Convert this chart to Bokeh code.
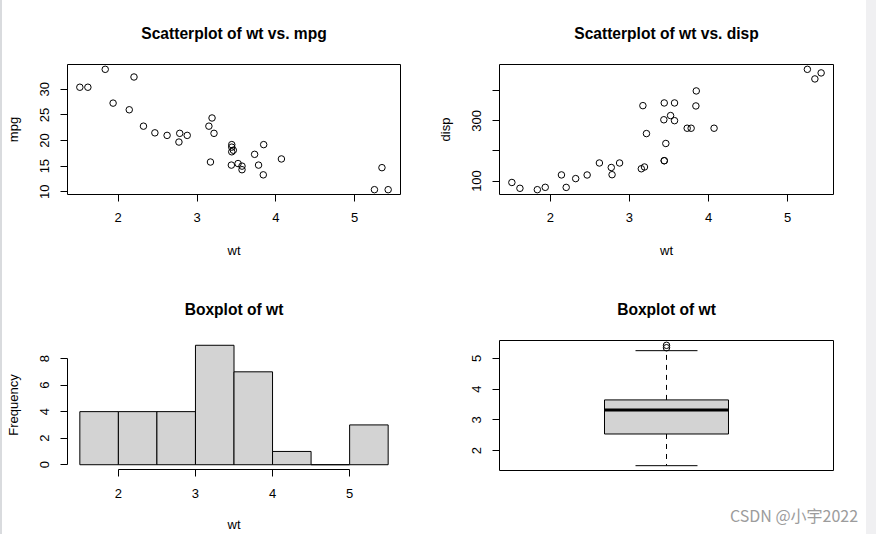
from bokeh.plotting import figure
from bokeh.layouts import row, column
from bokeh.models import FixedTicker, Range1d, Div
from bokeh.embed import file_html
from bokeh.resources import INLINE

# ---- data (mtcars) ----
wt = [2.620, 2.875, 2.320, 3.215, 3.440, 3.460, 3.570, 3.190, 3.150, 3.440, 3.440,
      4.070, 3.730, 3.780, 5.250, 5.424, 5.345, 2.200, 1.615, 1.835, 2.465, 3.520,
      3.435, 3.840, 3.845, 1.935, 2.140, 1.513, 3.170, 2.770, 3.570, 2.780]
mpg = [21.0, 21.0, 22.8, 21.4, 18.7, 18.1, 14.3, 24.4, 22.8, 19.2, 17.8, 16.4, 17.3,
       15.2, 10.4, 10.4, 14.7, 32.4, 30.4, 33.9, 21.5, 15.5, 15.2, 13.3, 19.2, 27.3,
       26.0, 30.4, 15.8, 19.7, 15.0, 21.4]
disp = [160, 160, 108, 258, 360, 225, 360, 146.7, 140.8, 167.6, 167.6, 275.8, 275.8,
        275.8, 472, 460, 440, 78.7, 75.7, 71.1, 120.1, 318, 304, 350, 400, 79, 120.3,
        95.1, 351, 145, 301, 121]

wt_ticks = [2, 3, 4, 5]
mpg_ticks = [10, 15, 20, 25, 30]
disp_ticks = [100, 200, 300, 400]
disp_tick_labels = ["100", "", "300", ""]

hist_left = [1.5, 2.0, 2.5, 3.0, 3.5, 4.0, 4.5, 5.0]
hist_right = [2.0, 2.5, 3.0, 3.5, 4.0, 4.5, 5.0, 5.5]
hist_counts = [4, 4, 4, 9, 7, 1, 0, 3]
hist_y_ticks = [0, 2, 4, 6, 8]

box_pos = 1
box_lower = 1.513
box_q1 = 2.5425
box_median = 3.325
box_q3 = 3.65
box_upper = 5.25
box_outliers = [5.345, 5.424]
box_y_ticks = [2, 3, 4, 5]

titles = ["Scatterplot of wt vs. mpg", "Scatterplot of wt vs. disp",
          "Boxplot of wt", "Boxplot of wt"]
watermark = "CSDN @小宇2022"

FONT = "Liberation Sans"
BOX_HW = 0.1856


def rpad(lo, hi):
    d = (hi - lo) * 0.04
    return Range1d(lo - d, hi + d)


def make_fig(width, height, bl, br, bt, bb, xr, yr, title, outline=True, xaxis=True,
             tick_standoff=11, label_standoff=18):
    p = figure(width=width, height=height, x_range=xr, y_range=yr,
               output_backend="svg", toolbar_location=None, title=title,
               min_border_left=bl, min_border_right=br, min_border_top=bt,
               min_border_bottom=bb, x_axis_location="below" if xaxis else None)
    p.title.text_font = FONT
    p.title.text_font_size = "15.6px"
    p.title.text_font_style = "bold"
    p.title.text_color = "black"
    p.title.align = "center"
    p.title.vertical_align = "top"
    p.title.standoff = 42
    p.xgrid.grid_line_color = None
    p.ygrid.grid_line_color = None
    p.background_fill_color = "white"
    p.border_fill_color = "white"
    if outline:
        p.outline_line_color = "black"
        p.outline_line_alpha = 1.0
        p.outline_line_width = 1
    else:
        p.outline_line_color = None
    for ax in p.axis:
        ax.major_tick_out = 7
        ax.major_tick_in = 0
        ax.minor_tick_line_color = None
        ax.major_tick_line_color = "black"
        ax.axis_line_color = None if outline else "black"
        ax.major_label_text_font = FONT
        ax.major_label_text_font_size = "13px"
        ax.major_label_text_color = "black"
        ax.axis_label_text_font = FONT
        ax.axis_label_text_font_size = "13px"
        ax.axis_label_text_font_style = "normal"
        ax.axis_label_text_color = "black"
    for ax in p.yaxis:
        ax.major_label_orientation = "vertical"
        ax.major_label_standoff = 11
        ax.axis_label_standoff = 17
    for ax in p.xaxis:
        ax.major_label_standoff = tick_standoff
        ax.axis_label_standoff = label_standoff
    return p


# ---- panel 1: wt vs mpg ----
f1 = make_fig(432, 271, 65, 34, 64, 77, rpad(min(wt), max(wt)), rpad(min(mpg), max(mpg)), titles[0])
f1.scatter(wt, mpg, marker="circle", size=6.5, fill_color=None, line_color="black", line_width=1)
f1.xaxis.ticker = FixedTicker(ticks=wt_ticks)
f1.yaxis.ticker = FixedTicker(ticks=mpg_ticks)
f1.xaxis.axis_label = "wt"
f1.yaxis.axis_label = "mpg"

# ---- panel 2: wt vs disp ----
f2 = make_fig(432, 271, 65, 33, 64, 77, rpad(min(wt), max(wt)), rpad(min(disp), max(disp)), titles[1])
f2.scatter(wt, disp, marker="circle", size=6.5, fill_color=None, line_color="black", line_width=1)
f2.xaxis.ticker = FixedTicker(ticks=wt_ticks)
f2.yaxis.ticker = FixedTicker(ticks=disp_ticks)
f2.yaxis.major_label_overrides = {t: l for t, l in zip(disp_ticks, disp_tick_labels)}
f2.xaxis.axis_label = "wt"
f2.yaxis.axis_label = "disp"

# ---- panel 3: histogram ----
f3 = make_fig(432, 263, 65, 34, 69, 64, rpad(hist_left[0], hist_right[-1]),
              rpad(0, max(hist_counts)), titles[2], outline=False,
              tick_standoff=12, label_standoff=16)
f3.quad(left=hist_left, right=hist_right, bottom=0, top=hist_counts,
        fill_color="#d3d3d3", line_color="black", line_width=1)
f3.xaxis.ticker = FixedTicker(ticks=wt_ticks)
f3.yaxis.ticker = FixedTicker(ticks=hist_y_ticks)
f3.xaxis.bounds = (wt_ticks[0], wt_ticks[-1])
f3.yaxis.bounds = (hist_y_ticks[0], hist_y_ticks[-1])
f3.xaxis.axis_label = "wt"
f3.yaxis.axis_label = "Frequency"

# ---- panel 4: boxplot ----
f4 = make_fig(432, 201, 65, 33, 69, 2, Range1d(0.5, 1.5), rpad(min(wt), max(wt)),
              titles[3], xaxis=False)
f4.segment(x0=[box_pos, box_pos], x1=[box_pos, box_pos], y0=[box_q3, box_q1],
           y1=[box_upper, box_lower], line_color="black", line_width=1, line_dash="5 5")
f4.segment(x0=[box_pos - BOX_HW / 2] * 2, x1=[box_pos + BOX_HW / 2] * 2,
           y0=[box_upper, box_lower], y1=[box_upper, box_lower], line_color="black", line_width=1)
f4.quad(left=[box_pos - BOX_HW], right=[box_pos + BOX_HW], bottom=[box_q1], top=[box_q3],
        fill_color="#d3d3d3", line_color="black", line_width=1)
f4.segment(x0=[box_pos - BOX_HW], x1=[box_pos + BOX_HW], y0=[box_median], y1=[box_median],
           line_color="black", line_width=3)
f4.scatter([box_pos] * len(box_outliers), box_outliers, marker="circle", size=6.5,
           fill_color=None, line_color="black", line_width=1)
f4.yaxis.ticker = FixedTicker(ticks=box_y_ticks)

# ---- watermark strip under the boxplot ----
wm = Div(text=('<div style="padding-left:296px; padding-top:35px; white-space:nowrap; '
               'font-family:\'Noto Sans CJK SC\'; font-size:16px; line-height:16px; '
               'color:#9c9c9c;">' + watermark + '</div>'),
         width=432, height=62, margin=0)

left_strip = Div(text="", width=2, height=534, margin=0,
                 styles={"background-color": "#d9dbde"})
right_strip = Div(text="", width=10, height=534, margin=0,
                  styles={"background-color": "#f0f0f2"})

grid = column(row(f1, f2, spacing=0),
              row(f3, column(f4, wm, spacing=0), spacing=0), spacing=0)
root = row(left_strip, grid, right_strip, spacing=0, margin=0)

open("out.html", "w").write(file_html(root, INLINE))
